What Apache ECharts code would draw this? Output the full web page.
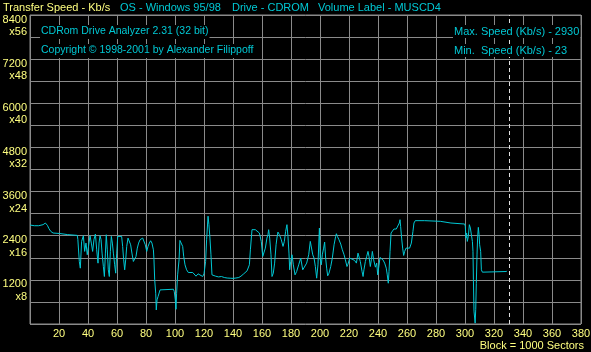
<!DOCTYPE html>
<html>
<head>
<meta charset="utf-8">
<script src="https://cdn.jsdelivr.net/npm/echarts@6.0.0/dist/echarts.min.js"></script>
<style>
html,body{margin:0;padding:0;background:#000;}
#chart{width:591px;height:352px;}
</style>
</head>
<body>
<div id="chart"></div>
<script>
// Block number (x 1000 sectors)
const blocks = [
  0, 3, 6, 6.5, 9, 10.6, 12, 13.1, 14.3, 15.9,
  20.5, 21, 26, 27, 32.6, 33, 34, 34.7, 35.6, 36.8,
  37.7, 38.6, 39.5, 40.5, 41.4, 42.3, 43.2, 44.1, 45.1, 46,
  46.9, 47.6, 48.3, 49, 49.7, 50.6, 51.3, 52, 52.6, 53.3,
  54, 54.7, 55.4, 56.1, 56.8, 57.5, 58.4, 59.1, 59.8, 60.5,
  63.2, 63.9, 64.6, 65.3, 66, 66.7, 67.6, 68.5, 69.4, 70.3,
  71.3, 72.2, 73.1, 74, 74.9, 75.9, 76.8, 77.7, 78.6, 79.5,
  80.5, 81.4, 82.3, 83.2, 84.1, 85.1, 85.5, 86, 86.7, 87.1,
  87.6, 88.3, 89.7, 90.8, 98.9, 99.5, 100.2, 100.7, 101.1, 101.8,
  102.8, 103.4, 104.6, 105.3, 106, 106.9, 108, 109.2, 110.3, 112.2,
  113.3, 114.5, 115.9, 117.2, 119.1, 120, 121.1, 121.8, 122.8, 123.4,
  124.1, 124.8, 125.5, 126.4, 128, 130, 132, 134, 136, 138,
  140, 142, 144, 145.5, 147.4, 149.7, 151.3, 152, 153.1, 153.6,
  155.4, 158.2, 159.1, 159.5, 160.5, 161.4, 162.3, 163.4, 164.1, 164.6,
  165.3, 166.2, 166.9, 167.8, 168.7, 169.7, 170.3, 171, 172, 173.3,
  174.5, 175.4, 176.3, 177.2, 177.9, 178.6, 179.1, 179.8, 180.7, 181.6,
  182.8, 183.9, 185.3, 186.7, 188.1, 189.4, 190.8, 192.2, 193.3, 194,
  195, 195.9, 196.8, 197.7, 198.6, 199.3, 199.6, 200.2, 200.9, 201.6,
  202.5, 203.2, 203.9, 204.6, 205.3, 206.2, 207.4, 208.5, 209.7, 210.8,
  211.3, 212, 213.1, 214.3, 215.4, 216.6, 217.5, 218.6, 219.3, 220.5,
  222.1, 223.9, 225.1, 226.2, 227.1, 227.8, 229, 229.7, 230.3, 231.3,
  232.2, 233.1, 233.8, 234.7, 235.4, 236.1, 237, 238.2, 239.1, 239.8,
  240.7, 241.4, 242.3, 243.4, 244.6, 245.7, 246.4, 247.1, 247.6, 248.3,
  249, 249.9, 251, 252.6, 253.8, 254.7, 255.2, 255.6, 256.3, 257,
  257.7, 258.4, 259.3, 260.2, 261.8, 263, 264.1, 264.8, 265.7, 272.2,
  272.5, 283, 283.8, 290.3, 290.5, 299.8, 300.2, 300.7, 301.1, 301.6,
  302.3, 303, 303.7, 304.4, 305.1, 305.5, 305.8, 306.2, 306.6, 307,
  307.4, 307.8, 308.3, 308.7, 309.2, 309.7, 310.1, 310.8, 311.3, 312,
  312.9, 328.5, 329
];
// Transfer speed, Kb/s
const speeds = [
  2690, 2672, 2672, 2700, 2700, 2745, 2682, 2591, 2518, 2473,
  2460, 2445, 2430, 2409, 2409, 2300, 1700, 1518, 2245, 2400,
  1973, 2200, 1882, 2154, 2400, 2200, 1973, 2291, 2445, 2018,
  1654, 2200, 2400, 2291, 1927, 1563, 1291, 1927, 2427, 2018,
  1473, 1291, 1973, 2382, 2200, 1927, 1609, 1382, 1927, 2382,
  2382, 2109, 1745, 1473, 1745, 2109, 2336, 2382, 2154, 1927,
  1700, 1654, 1836, 2063, 2200, 2291, 2336, 2336, 2291, 2154,
  1973, 2109, 2200, 2263, 2200, 2018, 1745, 1200, 836, 382,
  655, 745, 927, 945, 945, 882, 655, 400, 836, 1336,
  1745, 2272, 2245, 2109, 1836, 1609, 1473, 1400, 1364, 1400,
  1360, 1300, 1364, 1400, 1291, 1364, 1700, 2291, 2930, 2700,
  2336, 1882, 1336, 1291, 1300, 1280, 1291, 1264, 1250, 1245,
  1240, 1250, 1264, 1300, 1364, 1445, 1609, 2018, 2564, 2591,
  2564, 2473, 2445, 2245, 1836, 1882, 2063, 2336, 2427, 2564,
  2336, 1882, 1291, 1382, 1655, 2154, 2336, 2500, 2427, 2291,
  2109, 2245, 2518, 2700, 2382, 1927, 1473, 1700, 1882, 1609,
  1336, 1427, 1609, 1791, 1473, 1473, 1655, 1882, 2245, 2200,
  1882, 1791, 1563, 1245, 1609, 2336, 2609, 1745, 1609, 1882,
  2063, 2227, 1791, 1518, 1309, 1382, 1563, 1791, 2154, 2382,
  2454, 2382, 2291, 2173, 2018, 1882, 1745, 1563, 1627, 1791,
  1764, 1727, 1655, 1927, 1882, 1700, 1427, 1291, 1473, 1700,
  1836, 1973, 1836, 1563, 1745, 1973, 1745, 1545, 1655, 1336,
  1600, 1809, 1791, 1745, 1655, 1518, 1336, 1109, 1427, 1973,
  2473, 2518, 2582, 2582, 2609, 2745, 2836, 2654, 2336, 2063,
  1864, 1973, 2063, 2018, 2063, 2200, 2518, 2745, 2809, 2809,
  2791, 2791, 2745, 2745, 2718, 2718, 2655, 2336, 2473, 2245,
  2382, 2700, 2609, 2564, 2245, 1973, 1200, 350, 300, 23,
  400, 1100, 1900, 2336, 2627, 2427, 2154, 1973, 1473, 1409,
  1427, 1427, 1445
];
// Labelled speed ticks and their CD-speed multipliers
const speedTicks = [1200, 2400, 3600, 4800, 6000, 7200, 8400];
const multipliers = ['x8', 'x16', 'x24', 'x32', 'x40', 'x48', 'x56'];
// Labelled block ticks
const blockTicks = [20, 40, 60, 80, 100, 120, 140, 160, 180, 200, 220, 240, 260, 280, 300, 320, 340, 360, 380];
const discEnd = 330.5;

const headerTexts = [
  { text: 'Transfer Speed - Kb/s', x: 3, color: 'yellow' },
  { text: 'OS - Windows 95/98', x: 120, color: 'cyan' },
  { text: 'Drive - CDROM', x: 232, color: 'cyan' },
  { text: 'Volume Label - MUSCD4', x: 318, color: 'cyan' }
];
const infoLeft = ['CDRom Drive Analyzer 2.31 (32 bit)', 'Copyright \u00A9 1998-2001 by Alexander Filippoff'];
const infoRight = ['Max. Speed (Kb/s) - 2930', 'Min.  Speed (Kb/s) - 23'];

const YEL = '#ffff80';
const CYAN = '#00c8d4';
const GRID = '#8a8a8a';
const FAM = '"Liberation Sans", Arial, sans-serif';
const FONT = '11px ' + FAM;
const FONT_S = '10.5px ' + FAM;

const chart = echarts.init(document.getElementById('chart'), null, { renderer: 'canvas' });

const graphics = [];
headerTexts.forEach(h => graphics.push({
  type: 'text', left: h.x, top: 2, z: 10,
  style: { text: h.text, fill: h.color === 'yellow' ? YEL : CYAN, font: FONT }
}));
infoLeft.forEach((t, i) => graphics.push({
  type: 'text', left: 40, top: 25 + i * 19, z: 10,
  style: { text: t, fill: CYAN, font: FONT_S, backgroundColor: '#000', padding: [1, 1, 2, 1] }
}));
infoRight.forEach((t, i) => graphics.push({
  type: 'text', left: 453, top: 25 + i * 19, z: 10,
  style: { text: t, fill: CYAN, font: FONT, backgroundColor: '#000', padding: [1, 1, 1, 1] }
}));
graphics.push({
  type: 'text', right: 7, top: 340, z: 10,
  style: { text: 'Block = 1000 Sectors', fill: YEL, font: FONT }
});

chart.setOption({
  animation: false,
  backgroundColor: '#000',
  grid: { left: 30, right: 10, top: 15, bottom: 28, show: true, borderColor: GRID, borderWidth: 1, outerBoundsMode: 'none' },
  xAxis: {
    type: 'value', min: 0, max: 380, interval: 20,
    axisLine: { show: false }, axisTick: { show: false },
    splitLine: { show: true, lineStyle: { color: GRID, width: 1 } },
    axisLabel: {
      color: YEL, fontSize: 11, fontFamily: FAM, margin: 4,
      formatter: v => blockTicks.indexOf(v) >= 0 ? String(v) : ''
    }
  },
  yAxis: {
    type: 'value', min: 0, max: 8400, interval: 600,
    axisLine: { show: false }, axisTick: { show: false },
    splitLine: { show: true, lineStyle: { color: GRID, width: 1 } },
    axisLabel: {
      color: YEL, fontSize: 11, fontFamily: FAM, margin: 3,
      align: 'right', verticalAlign: 'top',
      formatter: v => {
        const i = speedTicks.indexOf(v);
        return i < 0 ? '' : '{n|' + v + '}\n{m|' + multipliers[i] + '}';
      },
      rich: {
        n: { color: YEL, fontSize: 11, lineHeight: 9, align: 'right' },
        m: { color: YEL, fontSize: 11, lineHeight: 16, align: 'right' }
      }
    }
  },
  graphic: graphics,
  series: [{
    type: 'line',
    data: blocks.map((b, i) => [b, speeds[i]]),
    showSymbol: false,
    lineStyle: { color: CYAN, width: 1 },
    z: 5,
    markLine: {
      silent: true, symbol: 'none', label: { show: false },
      lineStyle: { color: '#e0e0e0', type: [4, 3], width: 1 },
      data: [{ xAxis: discEnd }]
    }
  }]
});
</script>
</body>
</html>
